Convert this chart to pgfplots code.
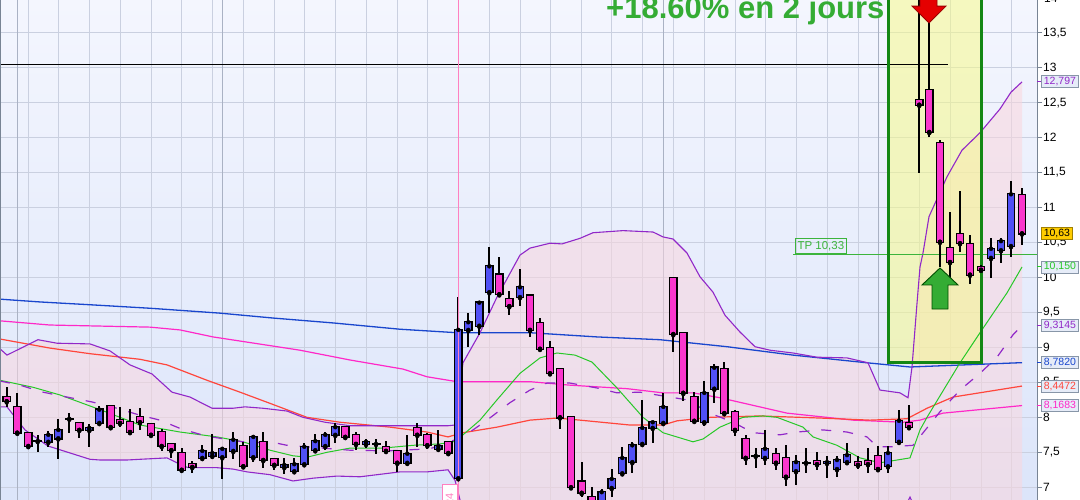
\documentclass[border=0pt]{standalone}
\usepackage{fontspec}
\setmainfont{Liberation Sans}
\usepackage{pgfplots}
\usepackage{pgfplotstable}
\pgfplotsset{compat=1.18}

\definecolor{bgtop}{RGB}{244,246,254}
\definecolor{bgbot}{RGB}{220,229,250}
\definecolor{gridcol}{RGB}{202,208,224}
\definecolor{darkgrid}{RGB}{170,178,196}
\definecolor{bandfill}{RGB}{250,214,222}
\definecolor{candleblue}{RGB}{80,80,245}
\definecolor{candlepink}{RGB}{250,55,205}
\definecolor{bbcol}{RGB}{145,40,200}
\definecolor{lgreen}{RGB}{40,200,40}
\definecolor{lred}{RGB}{255,70,60}
\definecolor{lmag}{RGB}{255,40,200}
\definecolor{lblue}{RGB}{25,70,205}
\definecolor{boxgreen}{RGB}{20,135,20}
\definecolor{boxyellow}{RGB}{247,250,140}
\definecolor{tpgreen}{RGB}{60,180,60}
\definecolor{titlegreen}{RGB}{52,172,52}
\definecolor{tickgray}{RGB}{120,132,148}
\definecolor{vboxfill}{RGB}{230,236,248}
\definecolor{vboxdraw}{RGB}{136,150,168}
\definecolor{gold}{RGB}{255,204,0}
\definecolor{golddraw}{RGB}{160,128,0}
\definecolor{pinkv}{RGB}{255,128,192}

% candles: x open high low close
\pgfplotstableread{
x o h l c
6.7 8.29 8.43 8.15 8.23
17.3 8.15 8.35 7.75 7.78
28.3 7.78 7.79 7.58 7.59
79.3 7.92 7.92 7.70 7.82
110.7 8.16 8.16 7.85 7.86
120 7.96 8.15 7.86 7.92
130 7.93 8.12 7.79 7.79
140 8.00 8.13 7.82 7.93
151 7.90 7.90 7.75 7.75
161.7 7.79 7.83 7.52 7.59
171.3 7.62 7.63 7.42 7.53
181.7 7.49 7.56 7.22 7.25
192.3 7.33 7.38 7.20 7.29
243.3 7.59 7.65 7.29 7.30
263.3 7.65 7.79 7.28 7.39
274.3 7.40 7.40 7.25 7.32
345.3 7.86 7.86 7.69 7.72
356 7.75 7.79 7.53 7.62
386 7.58 7.66 7.49 7.52
397.3 7.52 7.52 7.22 7.35
417.3 7.85 7.92 7.58 7.75
427.3 7.75 7.78 7.55 7.60
448.3 7.65 7.66 7.45 7.49
499.3 10.04 10.29 9.72 9.76
509.3 9.69 9.81 9.46 9.59
530 9.74 9.74 9.15 9.25
540 9.35 9.42 8.95 8.98
550 8.99 9.09 8.62 8.63
560 8.69 8.71 7.83 8.00
571 8.00 8.02 6.98 7.00
581.7 7.08 7.36 6.86 6.92
591.7 6.86 7.00 6.68 6.75
673.3 9.99 9.99 8.93 9.19
683.3 9.21 9.21 8.23 8.35
694.3 8.29 8.36 7.93 7.95
724.3 8.69 8.79 8.06 8.06
735 8.08 8.11 7.73 7.82
745.7 7.69 7.75 7.32 7.42
776 7.48 7.56 7.25 7.35
786 7.42 7.60 7.02 7.15
817 7.38 7.50 7.25 7.33
858 7.36 7.45 7.26 7.32
868 7.38 7.56 7.20 7.33
878 7.45 7.59 7.22 7.26
909 7.92 8.18 7.82 7.86
919.3 12.54 14.11 11.49 12.47
929.3 12.68 14.11 12.01 12.08
940 11.92 11.97 10.15 10.51
950 10.42 10.94 9.99 10.22
960 10.62 11.24 10.36 10.49
970 10.48 10.61 9.91 10.04
981 10.15 10.18 10.08 10.11
1022 11.18 11.28 10.46 10.63
}\pinkdata

\pgfplotstableread{
x o h l c
48.3 7.65 7.80 7.58 7.75
58.3 7.70 7.98 7.40 7.82
89.3 7.82 7.90 7.58 7.85
99.3 7.92 8.16 7.92 8.11
202.3 7.42 7.60 7.38 7.52
212.3 7.45 7.76 7.40 7.49
222.3 7.43 7.55 7.12 7.55
233.3 7.52 7.79 7.40 7.68
253.3 7.43 7.75 7.36 7.72
284.3 7.29 7.42 7.19 7.32
294.3 7.23 7.42 7.19 7.33
304.3 7.33 7.63 7.29 7.58
315.3 7.53 7.76 7.52 7.66
325.3 7.59 7.79 7.53 7.75
335.3 7.75 7.92 7.63 7.86
366 7.62 7.69 7.56 7.65
407.3 7.35 7.75 7.33 7.48
438.3 7.55 7.82 7.53 7.59
458.3 7.13 9.72 7.13 9.25
468.3 9.25 9.49 9.01 9.36
479.3 9.31 9.64 9.18 9.64
489.3 9.79 10.44 9.49 10.16
520 9.72 10.12 9.59 9.86
601.7 6.75 6.98 6.68 6.93
611.7 6.99 7.26 6.86 7.12
622.3 7.20 7.58 7.18 7.42
632.3 7.36 7.65 7.20 7.60
642.3 7.62 8.25 7.60 7.85
652.7 7.85 7.93 7.63 7.93
663.3 7.92 8.35 7.92 8.15
704.3 7.93 8.52 7.88 8.35
714.3 8.41 8.76 8.21 8.71
765 7.42 7.82 7.32 7.55
796 7.23 7.46 7.03 7.36
827 7.35 7.45 7.13 7.36
837 7.26 7.45 7.15 7.39
847 7.36 7.63 7.32 7.46
888 7.30 7.59 7.20 7.49
899 7.65 8.11 7.60 7.95
991 10.28 10.56 9.99 10.41
1001 10.39 10.56 10.21 10.52
1011 10.45 11.38 10.29 11.19
}\bluedata

\pgfplotstableread{
x o h l c
37.7 7.66 7.75 7.50 7.66
69.3 7.98 8.06 7.78 7.98
376 7.62 7.69 7.48 7.62
755.7 7.45 7.56 7.28 7.45
806 7.35 7.56 7.20 7.35
}\dojidata

\pgfplotstableread{
x y
0 8.98
7 8.89
38 9.11
57 9.06
90 9.05
110 8.95
130 8.75
152 8.62
172 8.36
190 8.29
212 8.13
233 8.13
245 8.15
263 8.13
287 8.09
303 8.00
325 7.93
350 7.88
400 7.88
448 7.88
455 7.89
463 8.78
480 9.21
497 9.72
520 10.32
530 10.42
550 10.49
562 10.48
580 10.56
593 10.64
623 10.67
653 10.65
663 10.58
673 10.55
687 10.35
700 10.01
713 9.79
725 9.46
740 9.22
755 9.01
770 8.96
793 8.92
817 8.86
847 8.85
868 8.78
880 8.39
900 8.35
908 8.28
912 8.72
917 9.63
920 10.15
923 10.35
929 10.87
947 11.44
962 11.82
980 12.07
1000 12.41
1011 12.65
1022 12.797
}\bbupper

\pgfplotstableread{
x y
0 8.15
7 8.15
25 7.82
48 7.59
90 7.40
100 7.39
127 7.39
140 7.40
167 7.42
177 7.35
188 7.28
217 7.28
233 7.26
247 7.22
270 7.18
293 7.09
313 7.13
337 7.16
360 7.15
400 7.22
427 7.22
448 7.25
455 7.10
460 6.82
470 6.53
500 6.40
880 6.40
905 6.72
910 6.86
918 6.60
940 6.40
1022 6.40
}\bblower

% band outline: upper band left to right, then lower band right to left
\pgfplotstableread{
x y
0 8.98
7 8.89
38 9.11
57 9.06
90 9.05
110 8.95
130 8.75
152 8.62
172 8.36
190 8.29
212 8.13
233 8.13
245 8.15
263 8.13
287 8.09
303 8.00
325 7.93
350 7.88
400 7.88
448 7.88
455 7.89
463 8.78
480 9.21
497 9.72
520 10.32
530 10.42
550 10.49
562 10.48
580 10.56
593 10.64
623 10.67
653 10.65
663 10.58
673 10.55
687 10.35
700 10.01
713 9.79
725 9.46
740 9.22
755 9.01
770 8.96
793 8.92
817 8.86
847 8.85
868 8.78
880 8.39
900 8.35
908 8.28
912 8.72
917 9.63
920 10.15
923 10.35
929 10.87
947 11.44
962 11.82
980 12.07
1000 12.41
1011 12.65
1022 12.797
1022 6.40
940 6.40
918 6.60
910 6.86
905 6.72
880 6.40
500 6.40
470 6.53
460 6.82
455 7.10
448 7.25
427 7.22
400 7.22
360 7.15
337 7.16
313 7.13
293 7.09
270 7.18
247 7.22
233 7.26
217 7.28
188 7.28
177 7.35
167 7.42
140 7.40
127 7.39
100 7.39
90 7.40
48 7.59
25 7.82
7 8.15
0 8.15
}\bandpoly

\pgfplotstableread{
x y
0 9.69
40 9.65
90 9.61
150 9.56
220 9.49
273 9.42
333 9.35
400 9.26
457 9.21
530 9.21
597 9.15
660 9.11
727 9.01
793 8.89
867 8.78
910 8.72
1022 8.782
}\blueline

\pgfplotstableread{
x y
0 9.38
50 9.32
150 9.29
180 9.25
213 9.15
300 8.96
350 8.82
403 8.69
427 8.58
457 8.51
530 8.51
570 8.46
627 8.41
663 8.35
693 8.35
720 8.28
787 8.06
853 7.96
903 7.93
920 7.96
943 8.06
1022 8.1683
}\magline

\pgfplotstableread{
x y
0 9.12
50 8.99
90 8.91
140 8.83
167 8.75
207 8.53
240 8.36
270 8.20
307 8.00
340 7.93
390 7.86
427 7.79
448 7.72
463 7.78
497 7.86
530 7.96
557 7.99
580 7.96
630 7.89
663 7.89
677 7.95
710 8.00
760 8.02
820 7.99
870 7.96
907 7.98
927 8.13
953 8.29
1022 8.4472
}\redline

\pgfplotstableread{
x y
0 8.53
33 8.43
60 8.32
100 8.11
140 7.89
180 7.79
217 7.72
243 7.65
270 7.53
293 7.45
307 7.43
327 7.50
350 7.56
383 7.56
413 7.60
440 7.62
453 7.65
463 7.75
480 7.96
497 8.25
520 8.63
540 8.85
557 8.92
575 8.89
592 8.79
617 8.42
643 8.00
663 7.78
693 7.65
703 7.69
720 7.86
743 8.00
763 8.02
777 8.00
803 7.86
813 7.72
837 7.60
860 7.42
880 7.35
910 7.42
920 7.82
927 8.00
960 8.78
980 9.21
1007 9.78
1022 10.15
}\greenline

\pgfplotstableread{
x y
0 8.52
20 8.46
43 8.36
67 8.29
92 8.22
117 8.13
140 8.03
160 7.96
182 7.83
207 7.73
243 7.65
277 7.63
287 7.60
350 7.53
387 7.52
430 7.55
463 7.72
487 7.96
510 8.21
530 8.39
547 8.49
570 8.49
597 8.42
617 8.35
640 8.36
687 8.25
710 8.06
733 7.93
753 7.78
780 7.75
797 7.79
823 7.82
847 7.79
867 7.72
877 7.58
893 7.58
913 7.60
940 8.08
960 8.39
980 8.63
997 8.86
1013 9.18
1022 9.3145
}\dashline

\begin{document}
\begin{tikzpicture}
\path (0,0) rectangle (1080pt,500pt);
\begin{pgfinterruptboundingbox}
\begin{axis}[
  at={(0,0)}, anchor=south west,
  scale only axis, width=1037pt, height=500pt,
  xmin=0, xmax=1037, ymin=6.818, ymax=13.968,
  axis line style={draw=none},
  axis background/.style={shade, top color=bgtop, bottom color=bgbot},
  xtick={28.3,58.3,89.3,120,151,181.7,212.3,243.3,274.3,304.3,335.3,366,397.3,427.3,458.3,489.3,520,550,581.7,611.7,642.3,673.3,704.3,735,765,796,827,858,888,919.3,950,981,1011},
  xticklabels={},
  x tick style={draw=none},
  extra x ticks={17.3,222.3,663.3,878},
  extra x tick labels={},
  extra x tick style={major grid style={darkgrid, line width=0.9pt}, tick style={draw=none}},
  ytick={7,7.5,8,8.5,9,9.5,10,10.5,11,11.5,12,12.5,13,13.5},
  ytick pos=right, yticklabel pos=right,
  tick align=outside, major tick length=5pt,
  y tick style={draw=tickgray, line width=0.8pt},
  grid=major,
  major grid style={gridcol, line width=0.7pt},
  yticklabel style={font=\fontsize{12}{12}\selectfont, inner sep=1pt, anchor=west, text=black},
  /pgf/number format/use comma,
  /pgf/number format/fixed,
  /pgf/number format/precision=1,
  /pgf/number format/assume math mode=true,
]
% band fill
\addplot[fill=bandfill, fill opacity=0.55, draw=none] table[x=x,y=y] \bandpoly;
% yellow box fill
\fill[boxyellow, opacity=0.55] (axis cs:888,8.791) rectangle (axis cs:981,14.3);
% indicator lines
\addplot[lblue, line width=1.3pt] table[x=x,y=y] \blueline;
\addplot[lmag, line width=1.2pt] table[x=x,y=y] \magline;
\addplot[lred, line width=1.2pt] table[x=x,y=y] \redline;
\addplot[lgreen, line width=1.0pt] table[x=x,y=y] \greenline;
\addplot[bbcol, line width=1.2pt, dash pattern=on 10pt off 12pt] table[x=x,y=y] \dashline;
\addplot[bbcol, line width=1.1pt] table[x=x,y=y] \bbupper;
\addplot[bbcol, line width=1.1pt] table[x=x,y=y] \bblower;
% horizontal lines
\addplot[black, line width=1.2pt] coordinates {(0,13.05) (948,13.05)};
\addplot[tpgreen, line width=1.8pt] coordinates {(793,10.33) (1037,10.33)};
% yellow box border
\draw[boxgreen, line width=3pt] (axis cs:888,8.791) rectangle (axis cs:981,14.3);
% candles: wicks
\addplot[only marks, mark=none, error bars/.cd, y dir=both, y explicit, error mark=none,
  error bar style={line width=2.3pt, draw=black}]
  table[x=x, y=c, y error plus expr=\thisrow{h}-\thisrow{c}, y error minus expr=\thisrow{c}-\thisrow{l}] \pinkdata;
\addplot[only marks, mark=none, error bars/.cd, y dir=both, y explicit, error mark=none,
  error bar style={line width=2.3pt, draw=black}]
  table[x=x, y=c, y error plus expr=\thisrow{h}-\thisrow{c}, y error minus expr=\thisrow{c}-\thisrow{l}] \bluedata;
\addplot[only marks, mark=none, error bars/.cd, y dir=both, y explicit, error mark=none,
  error bar style={line width=2.3pt, draw=black}]
  table[x=x, y=c, y error plus expr=\thisrow{h}-\thisrow{c}, y error minus expr=\thisrow{c}-\thisrow{l}] \dojidata;
% bodies outlines
\addplot[only marks, mark=none, error bars/.cd, y dir=plus, y explicit, error mark=none,
  error bar style={line width=8.6pt, draw=black}]
  table[x=x, y expr=\thisrow{c}-0.017, y error plus expr=\thisrow{o}-\thisrow{c}+0.034] \pinkdata;
\addplot[only marks, mark=none, error bars/.cd, y dir=plus, y explicit, error mark=none,
  error bar style={line width=8.6pt, draw=black}]
  table[x=x, y expr=\thisrow{o}-0.017, y error plus expr=\thisrow{c}-\thisrow{o}+0.034] \bluedata;
\addplot[only marks, mark=none, error bars/.cd, y dir=plus, y explicit, error mark=none,
  error bar style={line width=9pt, draw=black}]
  table[x=x, y expr=\thisrow{c}-0.015, y error plus expr=0.03] \dojidata;
% bodies fill
\addplot[only marks, mark=none, error bars/.cd, y dir=plus, y explicit, error mark=none,
  error bar style={line width=6.2pt, draw=candlepink}]
  table[x=x, y=c, y error plus expr=\thisrow{o}-\thisrow{c}] \pinkdata;
\addplot[only marks, mark=none, error bars/.cd, y dir=plus, y explicit, error mark=none,
  error bar style={line width=6.2pt, draw=candleblue}]
  table[x=x, y=o, y error plus expr=\thisrow{c}-\thisrow{o}] \bluedata;
% pink date line
\draw[pinkv, line width=0.9pt] (axis cs:458,6.7) -- (axis cs:458,14.2);
\node[rotate=90, anchor=east, draw=pinkv, fill=white, text=pinkv, font=\fontsize{11}{11}\selectfont,
  inner sep=2pt, minimum width=30pt, minimum height=15pt] at (axis cs:449.5,7.047) {24};
% arrows
\draw[fill=red!90!black, draw=red!60!black, line width=0.8pt]
  (axis cs:920,14.04) -- (axis cs:937,14.04) -- (axis cs:937,13.88) -- (axis cs:946,13.88)
  -- (axis cs:929,13.64) -- (axis cs:912,13.88) -- (axis cs:920,13.88) -- cycle;
\draw[fill=titlegreen, draw=green!30!black, line width=0.9pt]
  (axis cs:940,10.136) -- (axis cs:958,9.893) -- (axis cs:948,9.893) -- (axis cs:948,9.549)
  -- (axis cs:932,9.549) -- (axis cs:932,9.893) -- (axis cs:922,9.893) -- cycle;
% title
\node[anchor=base west, text=titlegreen, font=\fontsize{31}{31}\selectfont\bfseries, inner sep=0pt]
  at (axis cs:606,13.70) {+18.60\% en 2 jours};
% TP label
\node[draw=tpgreen, text=tpgreen, line width=1pt, font=\fontsize{11.5}{11.5}\selectfont,
  inner sep=2pt, minimum height=15pt, anchor=south west] at (axis cs:795,10.33) {TP 10,33};
% anchors for value boxes
\coordinate (b1) at (axis cs:1037,12.797);
\coordinate (b2) at (axis cs:1037,10.63);
\coordinate (b3) at (axis cs:1037,10.150);
\coordinate (b4) at (axis cs:1037,9.3145);
\coordinate (b5) at (axis cs:1037,8.782);
\coordinate (b6) at (axis cs:1037,8.4472);
\coordinate (b7) at (axis cs:1037,8.1683);
\end{axis}
% right axis line
\draw[tickgray, line width=1pt] (1037pt,0) -- (1037pt,500pt);
\draw[tickgray, line width=0.5pt] (0.3pt,0) -- (0.3pt,500pt);
\node[anchor=west, inner sep=1pt, font=\fontsize{12}{12}\selectfont] at (1043pt,502pt) {14};
\tikzset{vbox/.style={draw=vboxdraw, fill=vboxfill, line width=0.8pt, inner sep=1pt,
  minimum width=37pt, minimum height=12pt, font=\fontsize{10.5}{10.5}\selectfont, anchor=west}}
\foreach \p/\col/\t in {b1/bbcol/{12,797}, b3/lgreen/{10,150}, b4/bbcol/{9,3145}, b5/lblue/{8,7820}, b6/lred/{8,4472}, b7/lmag/{8,1683}}{
  \draw[\col, line width=1pt] (\p) -- ++(4pt,0);
  \node[vbox, text=\col] at ([xshift=4pt]\p) {\t};
}
\node[draw=golddraw, fill=gold, line width=0.8pt, inner sep=1pt, minimum width=31pt,
  minimum height=12pt, font=\fontsize{10.5}{10.5}\selectfont, anchor=west] at ([xshift=4pt]b2) {10,63};
\end{pgfinterruptboundingbox}
\end{tikzpicture}
\end{document}
